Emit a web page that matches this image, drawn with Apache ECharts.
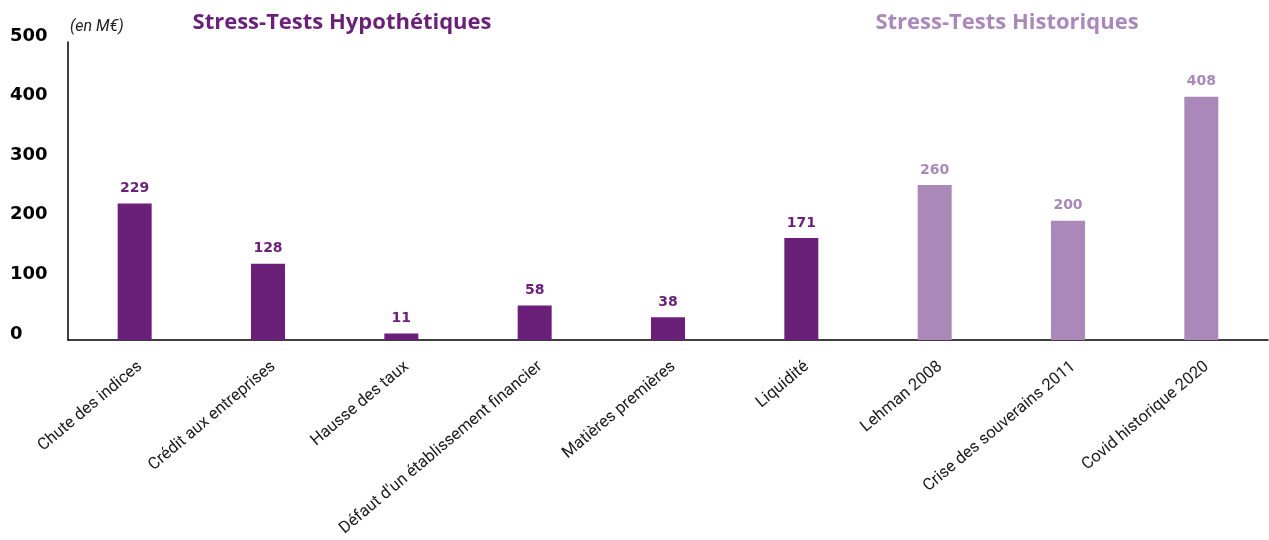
<!DOCTYPE html>
<html>
<head>
<meta charset="utf-8">
<script src="https://cdn.jsdelivr.net/npm/echarts@6/dist/echarts.min.js"></script>
<style>html,body{margin:0;padding:0;background:#fff}#c{width:1269px;height:540px}</style>
</head>
<body>
<div id="c"></div>
<script>
const categories = ["Chute des indices","Crédit aux entreprises","Hausse des taux","Défaut d'un établissement financier","Matières premières","Liquidité","Lehman 2008","Crise des souverains 2011","Covid historique 2020"];
const values = [229,128,11,58,38,171,260,200,408];
const groups = ["hypo","hypo","hypo","hypo","hypo","hypo","hist","hist","hist"];
const yTicks = [0,100,200,300,400,500];
const titleHypo = "Stress-Tests Hypothétiques";
const titleHist = "Stress-Tests Historiques";
const unitLabel = "(en M€)";

const DARK = "#6a1f79";
const LIGHT = "#aa88ba";
const colorOf = g => g === "hypo" ? DARK : LIGHT;

const chart = echarts.init(document.getElementById('c'));
chart.setOption({
  animation: false,
  grid: { left: 68, right: 1, top: 42, bottom: 200, containLabel: false },
  graphic: [
    { type: 'text', left: 70, top: 19, style: { text: unitLabel, font: 'italic 16px Roboto', fill: '#222' } },
    { type: 'text', x: 342, y: 23, style: { text: titleHypo, font: 'bold 22px "Open Sans"', fill: DARK, align: 'center', verticalAlign: 'middle' } },
    { type: 'text', x: 1007, y: 23, style: { text: titleHist, font: 'bold 22px "Open Sans"', fill: LIGHT, align: 'center', verticalAlign: 'middle' } }
  ],
  xAxis: {
    type: 'category',
    data: categories,
    axisLine: { lineStyle: { color: '#000', width: 1.5 } },
    axisTick: { show: false },
    axisLabel: { rotate: 40, interval: 0, margin: 18, verticalAlign: 'top', color: '#1a1a1a', fontFamily: 'Roboto', fontSize: 16.5 }
  },
  yAxis: {
    type: 'value',
    min: yTicks[0], max: yTicks[yTicks.length - 1], interval: 100,
    splitLine: { show: false },
    axisLine: { show: true, lineStyle: { color: '#000', width: 1.5 } },
    axisTick: { show: false },
    axisLabel: {
      align: 'left', verticalAlign: 'bottom', lineHeight: 12, margin: 58, color: '#000',
      fontFamily: 'DejaVu Sans', fontWeight: 'bold', fontSize: 18
    }
  },
  series: [{
    type: 'bar',
    barWidth: 34,
    data: values.map((v, i) => ({
      value: v,
      itemStyle: { color: colorOf(groups[i]) },
      label: { color: colorOf(groups[i]) }
    })),
    label: {
      show: true, position: 'top', distance: 8,
      fontFamily: 'DejaVu Sans', fontWeight: 'bold', fontSize: 14
    }
  }]
});
</script>
</body>
</html>
